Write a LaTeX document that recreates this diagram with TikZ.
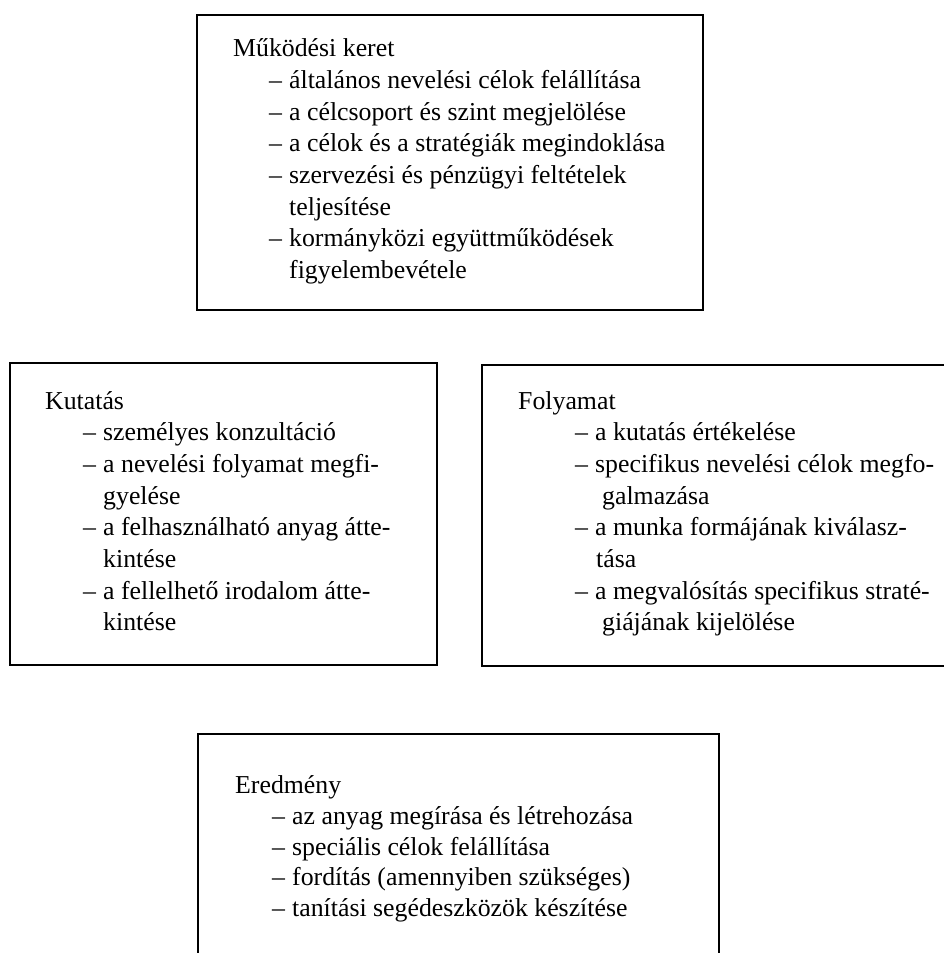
\documentclass[tikz,border=0pt]{standalone}
\usepackage{fontspec}
\setmainfont{Liberation Serif}
\tikzset{
  boxline/.style={draw=black, line width=1.6pt},
  txt/.style={anchor=base west, inner sep=0pt, font=\fontsize{25.8}{30}\selectfont},
}
\newcommand{\itm}{\makebox[20pt][l]{–}}
\begin{document}
\begin{tikzpicture}[x=1pt, y=-1pt]
\useasboundingbox (0,0) rectangle (944,953);
\clip (0,0) rectangle (944,953);
\fill[white] (0,0) rectangle (944,953);
% boxes
\draw[boxline] (197,15) rectangle (703,310);
\draw[boxline] (10,363) rectangle (437,665);
\draw[boxline] (482,365) rectangle (980,666);
\draw[boxline] (198,734) rectangle (719,990);
% top box
\node[txt] (t0) at (233,56.7) {Működési keret};
\node[txt] (t1) at (269,88.3) {\itm általános nevelési célok felállítása};
\node[txt] (t2) at (269,120) {\itm a célcsoport és szint megjelölése};
\node[txt] (t3) at (269,151.7) {\itm a célok és a stratégiák megindoklása};
\node[txt] (t4) at (269,183.3) {\itm szervezési és pénzügyi feltételek};
\node[txt] (t5) at (289,215) {teljesítése};
\node[txt] (t6) at (269,246.7) {\itm kormányközi együttműködések};
\node[txt] (t7) at (289,278.3) {figyelembevétele};
% left box
\node[txt] (k0) at (45,409) {Kutatás};
\node[txt] (k1) at (83,440.7) {\itm személyes konzultáció};
\node[txt] (k2) at (83,472.3) {\itm a nevelési folyamat megfi-};
\node[txt] (k3) at (103,504) {gyelése};
\node[txt] (k4) at (83,535.7) {\itm a felhasználható anyag átte-};
\node[txt] (k5) at (103,567.3) {kintése};
\node[txt] (k6) at (83,599) {\itm a fellelhető irodalom átte-};
\node[txt] (k7) at (103,630.7) {kintése};
% right box
\node[txt] (f0) at (518,409) {Folyamat};
\node[txt] (f1) at (575,440.7) {\itm a kutatás értékelése};
\node[txt] (f2) at (575,472.3) {\itm specifikus nevelési célok megfo-};
\node[txt] (f3) at (602,504) {galmazása};
\node[txt] (f4) at (575,535.7) {\itm a munka formájának kiválasz-};
\node[txt] (f5) at (596,567.3) {tása};
\node[txt] (f6) at (575,599) {\itm a megvalósítás specifikus straté-};
\node[txt] (f7) at (602,630.7) {giájának kijelölése};
% bottom box
\node[txt] (e0) at (235,793) {Eredmény};
\node[txt] (e1) at (272,824) {\itm az anyag megírása és létrehozása};
\node[txt] (e2) at (272,855) {\itm speciális célok felállítása};
\node[txt] (e3) at (272,885.5) {\itm fordítás (amennyiben szükséges)};
\node[txt] (e4) at (272,916) {\itm tanítási segédeszközök készítése};
\end{tikzpicture}
\end{document}
